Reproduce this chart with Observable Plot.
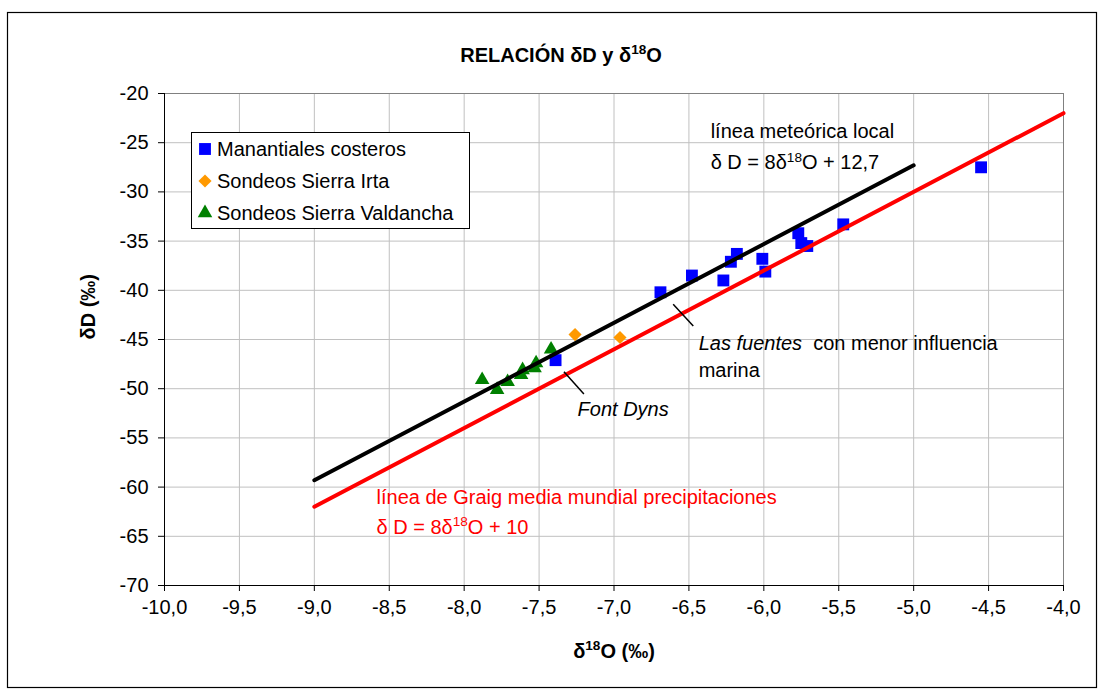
<!DOCTYPE html>
<html><head><meta charset="utf-8">
<script src="https://cdn.jsdelivr.net/npm/d3@7"></script>
<script src="https://cdn.jsdelivr.net/npm/@observablehq/plot@0.6"></script>
<style>
body{margin:0;background:#fff}
svg{display:block;font-family:"Liberation Sans",Arial,sans-serif}
</style>
</head><body><div id="chart"></div>
<script>
// ---- data ----
const manantialesX = [-4.55, -5.47, -5.77, -5.75, -5.71, -6.01, -5.99, -6.18, -6.22, -6.27, -6.48, -6.69, -7.39];
const manantialesY = [-27.5, -33.3, -34.2, -35.2, -35.5, -36.8, -38.1, -36.3, -37.1, -39.0, -38.5, -40.2, -47.1];
const irtaX = [-7.26, -6.96];
const irtaY = [-44.5, -44.8];
const valdanchaX = [-7.88, -7.78, -7.71, -7.62, -7.61, -7.53, -7.52, -7.42];
const valdanchaY = [-49.1, -50.1, -49.3, -48.6, -48.1, -47.9, -47.4, -46.0];
const meteoricX = [-9, -5];
const meteoricY = [-59.3, -27.3];
const craigX = [-9, -4];
const craigY = [-62, -22];
const xTicks = [-10, -9.5, -9, -8.5, -8, -7.5, -7, -6.5, -6, -5.5, -5, -4.5, -4];
const yTicks = [-70, -65, -60, -55, -50, -45, -40, -35, -30, -25, -20];
const seriesNames = ["Manantiales costeros", "Sondeos Sierra Irta", "Sondeos Sierra Valdancha"];
const seriesColors = ["#0000ff", "#ff9900", "#008000"];
const seriesSymbols = ["square", "diamond2", "triangle"];
const seriesR = [6.7, 5.9, 5.4];
const titleText = "RELACIÓN δD y δ^18^O";
const yLabel = "δD (‰)";
const xLabel = "δ^18^O (‰)";
const annotText = ["línea meteórica local", "δ D = 8δ^18^O + 12,7", "*Las fuentes*  con menor influencia", "marina", "*Font Dyns*", "línea de Graig media mundial precipitaciones", "δ D = 8δ^18^O + 10"];
const annotX = [-6.355, -6.355, -6.435, -6.435, -7.243, -8.585, -8.585];
const annotY = [-23.85, -27.05, -45.45, -48.2, -52.1, -61.1, -64.1];
const annotColor = ["black", "black", "black", "black", "black", "#ff0000", "#ff0000"];
const pointerX1 = [-6.605, -7.334];
const pointerY1 = [-41.42, -48.27];
const pointerX2 = [-6.471, -7.201];
const pointerY2 = [-43.63, -50.55];

const zip = (xs, ys) => xs.map((x, i) => ({x, y: ys[i]}));
const series = [zip(manantialesX, manantialesY), zip(irtaX, irtaY), zip(valdanchaX, valdanchaY)];
const annots = annotText.map((t, i) => ({t, x: annotX[i], y: annotY[i], c: annotColor[i]}));
const pointers = pointerX1.map((x, i) => ({x1: x, y1: pointerY1[i], x2: pointerX2[i], y2: pointerY2[i]}));
const fmtX = d => d.toFixed(1).replace(".", ",");
const fmtY = d => d.toFixed(0);

const chart = Plot.plot({
  width: 1105, height: 693,
  marginLeft: 164, marginRight: 42, marginTop: 93, marginBottom: 108,
  style: {fontFamily: '"Liberation Sans",Arial,sans-serif', fontSize: "20px", background: "white", overflow: "visible"},
  x: {domain: [-10, -4]},
  y: {domain: [-70, -20]},
  marks: [
    Plot.gridX(xTicks, {stroke: "#c0c0c0", strokeOpacity: 1}),
    Plot.gridY(yTicks, {stroke: "#c0c0c0", strokeOpacity: 1}),
    Plot.ruleX([-4], {stroke: "#808080"}),
    Plot.ruleY([-20], {stroke: "#808080"}),
    Plot.axisX(xTicks, {tickFormat: fmtX, tickSize: 6, tickPadding: 8, fontSize: 20, label: null, stroke: "black"}),
    Plot.axisY(yTicks, {tickFormat: fmtY, tickSize: 6, tickPadding: 10, fontSize: 20, label: null, stroke: "black"}),
    Plot.ruleX([-10], {stroke: "black"}),
    Plot.ruleY([-70], {stroke: "black"}),
    ...series.map((s, i) => Plot.dot(s, {x: "x", y: "y", symbol: () => seriesSymbols[i], fill: seriesColors[i], r: seriesR[i]})),
    Plot.line(zip(craigX, craigY), {x: "x", y: "y", stroke: "#ff0000", strokeWidth: 4}),
    Plot.line(zip(meteoricX, meteoricY), {x: "x", y: "y", stroke: "black", strokeWidth: 4}),
    Plot.link(pointers, {x1: "x1", y1: "y1", x2: "x2", y2: "y2", stroke: "black", strokeWidth: 1.5}),
    Plot.text(annots, {x: "x", y: "y", text: "t", fill: "c", textAnchor: "start", fontSize: 20}),
    Plot.text([titleText], {text: d => d, frameAnchor: "top", dx: -53, dy: -46, fontWeight: "bold", fontSize: 20}),
    Plot.text([xLabel], {text: d => d, frameAnchor: "bottom", dy: 72, fontWeight: "bold", fontSize: 20}),
    Plot.text([yLabel], {text: d => d, frameAnchor: "left", dx: -76, rotate: -90, fontWeight: "bold", fontSize: 20})
  ]
});

// rich text: ^sup^ and *italic*
chart.querySelectorAll("text").forEach(el => {
  const s = el.textContent;
  if (!/[\^*]/.test(s)) return;
  const fs = parseFloat(getComputedStyle(el).fontSize) || 20;
  const parts = s.split(/(\^[^^]*\^|\*[^*]*\*)/).filter(p => p.length);
  while (el.firstChild) el.removeChild(el.firstChild);
  let shifted = 0;
  parts.forEach(p => {
    const t = document.createElementNS("http://www.w3.org/2000/svg", "tspan");
    if (p.startsWith("^")) {
      t.textContent = p.slice(1, -1);
      t.setAttribute("font-size", (fs * 0.68).toFixed(1));
      t.setAttribute("dy", (-fs * 0.38).toFixed(1));
      shifted = fs * 0.38;
    } else {
      if (p.startsWith("*")) { t.textContent = p.slice(1, -1); t.setAttribute("font-style", "italic"); }
      else t.textContent = p;
      if (shifted) { t.setAttribute("dy", shifted.toFixed(1)); shifted = 0; }
    }
    t.style.whiteSpace = "pre";
    el.appendChild(t);
  });
});

// legend and outer border
const svg = d3.select(chart);
svg.append("rect").attr("x", 7.5).attr("y", 12.5).attr("width", 1089).attr("height", 675)
  .attr("fill", "none").attr("stroke", "black").attr("stroke-width", 1.2);
const lg = svg.append("g").attr("text-anchor", "start");
lg.append("rect").attr("x", 191.5).attr("y", 132.5).attr("width", 278).attr("height", 96)
  .attr("fill", "white").attr("stroke", "black").attr("stroke-width", 1);
const symMap = {square: d3.symbolSquare, diamond2: d3.symbolDiamond2, triangle: d3.symbolTriangle};
seriesNames.forEach((n, i) => {
  const cy = 149 + i * 32;
  lg.append("path").attr("transform", `translate(205,${cy})`)
    .attr("d", d3.symbol(symMap[seriesSymbols[i]], Math.PI * seriesR[i] ** 2)())
    .attr("fill", seriesColors[i]);
  lg.append("text").attr("x", 217).attr("y", cy).attr("dy", "0.35em")
    .attr("text-anchor", "start").attr("font-size", 20).attr("fill", "black").text(n);
});

document.getElementById("chart").appendChild(chart);
</script>
</body></html>
